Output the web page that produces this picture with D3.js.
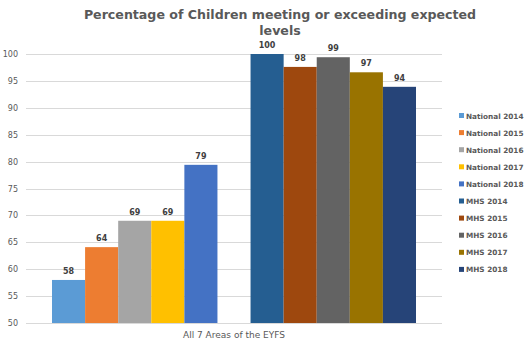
<!DOCTYPE html>
<html>
<head>
<meta charset="utf-8">
<style>
    body { margin: 0; background: #fff; }
    svg text { font-family: "DejaVu Sans", sans-serif; fill: #595959; }
</style>
<script src="https://d3js.org/d3.v7.min.js"></script>
</head>
<body>
<svg width="531" height="345"></svg>
<script>
// data
var category = "All 7 Areas of the EYFS";
var seriesNames = ["National 2014", "National 2015", "National 2016", "National 2017", "National 2018",
                   "MHS 2014", "MHS 2015", "MHS 2016", "MHS 2017", "MHS 2018"];
var seriesValues = [58, 64.1, 69, 69, 79.4, 100, 97.6, 99.4, 96.6, 93.9];
var seriesColors = ["#5B9BD5", "#ED7D31", "#A5A5A5", "#FFC000", "#4472C4",
                    "#255E91", "#9E480E", "#636363", "#997300", "#264478"];
var yTicks = [50, 55, 60, 65, 70, 75, 80, 85, 90, 95, 100];

var svg = d3.select("svg");
var plotLeft = 26, plotRight = 442, plotTop = 54, plotBottom = 323;

var y = d3.scaleLinear().domain([50, 100]).range([plotBottom, plotTop]);

// one empty slot between the national and MHS groups
var slots = seriesNames.slice(0, 5).concat(["gap"], seriesNames.slice(5));
var x0 = d3.scaleBand().domain([category]).range([plotLeft, plotRight]);
var x1 = d3.scaleBand().domain(slots).range([x0(category) + 26, x0(category) + x0.bandwidth() - 26]);

// gridlines
svg.append("g")
   .selectAll("line")
   .data(yTicks)
   .enter().append("line")
   .attr("x1", plotLeft).attr("x2", plotRight)
   .attr("y1", function(d){ return Math.round(y(d)) + 0.5; })
   .attr("y2", function(d){ return Math.round(y(d)) + 0.5; })
   .attr("stroke", "#d9d9d9")
   .attr("stroke-width", 1);

// y axis labels
svg.append("g")
   .selectAll("text")
   .data(yTicks)
   .enter().append("text")
   .attr("x", 18)
   .attr("y", function(d){ return y(d) + 3; })
   .attr("text-anchor", "end")
   .style("font-size", "8px")
   .text(function(d){ return d; });

// bars
var bars = seriesNames.map(function(n, i){ return {name: n, value: seriesValues[i], color: seriesColors[i]}; });

svg.append("g")
   .selectAll("rect")
   .data(bars)
   .enter().append("rect")
   .attr("x", function(d){ return x1(d.name); })
   .attr("y", function(d){ return y(d.value); })
   .attr("width", x1.bandwidth())
   .attr("height", function(d){ return y(50) - y(d.value); })
   .attr("fill", function(d){ return d.color; });

// value labels
svg.append("g")
   .selectAll("text")
   .data(bars)
   .enter().append("text")
   .attr("x", function(d){ return x1(d.name) + x1.bandwidth() / 2; })
   .attr("y", function(d){ return y(d.value) - 6; })
   .attr("text-anchor", "middle")
   .style("font-size", "8px")
   .style("font-weight", "bold")
   .style("fill", "#404040")
   .text(function(d){ return d3.format(".0f")(d.value); });

// category label
svg.append("text")
   .attr("x", x0(category) + x0.bandwidth() / 2)
   .attr("y", 338)
   .attr("text-anchor", "middle")
   .style("font-size", "9px")
   .text(category);

// title
var title = svg.append("text")
   .attr("text-anchor", "middle")
   .style("font-size", "12.6px")
   .style("font-weight", "bold");
title.append("tspan").attr("x", 280).attr("y", 19).text("Percentage of Children meeting or exceeding expected");
title.append("tspan").attr("x", 280).attr("y", 35).text("levels");

// legend
var legend = svg.append("g")
   .selectAll("g")
   .data(bars)
   .enter().append("g")
   .attr("transform", function(d, i){ return "translate(459," + (116 + i * 17.1) + ")"; });

legend.append("rect")
   .attr("x", 0).attr("y", -3)
   .attr("width", 5).attr("height", 5)
   .attr("fill", function(d){ return d.color; });

legend.append("text")
   .attr("x", 7)
   .attr("y", 2.5)
   .style("font-size", "7.3px")
   .style("font-weight", "bold")
   .text(function(d){ return d.name; });
</script>
</body>
</html>
